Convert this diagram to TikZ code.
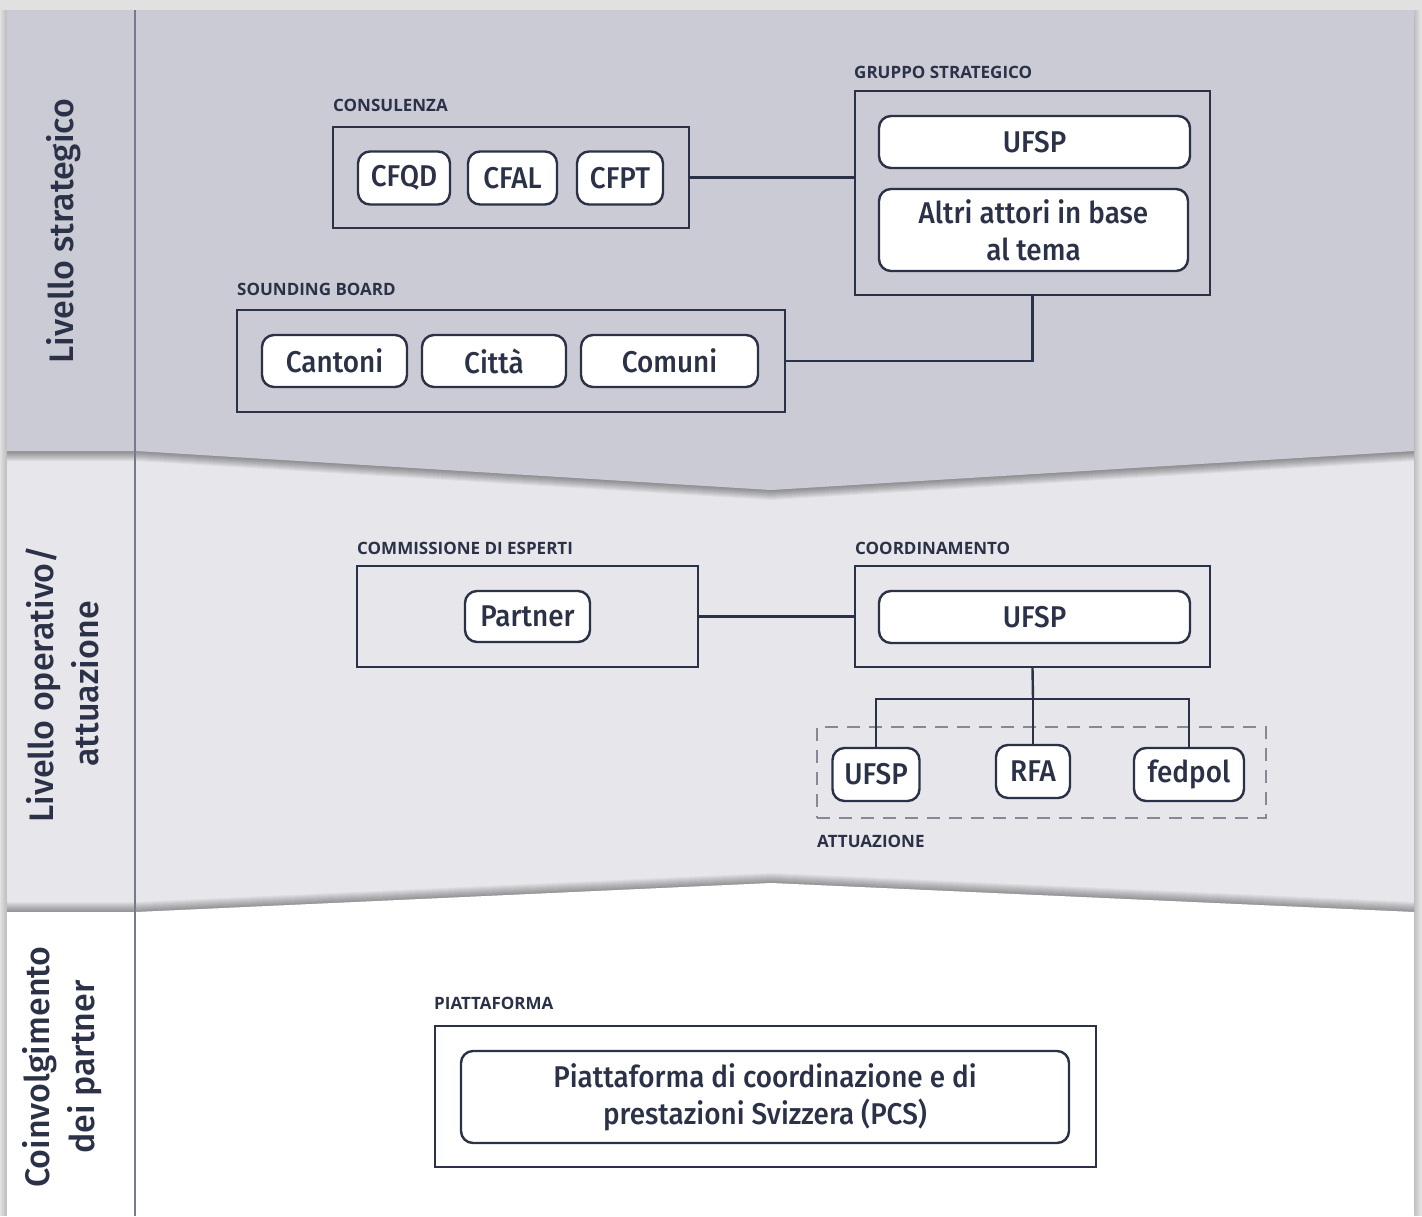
\documentclass[tikz,border=0pt]{standalone}
\usepackage{fontspec}
\setmainfont{Fira Sans}
\newfontfamily\boxfont[FakeStretch=0.93]{Fira Sans Medium}
\newfontfamily\levelfont{Fira Sans Medium}
\newfontfamily\headfont[BoldFont={Open Sans Bold}]{Open Sans}
\definecolor{navy}{HTML}{2B3247}
\definecolor{bandA}{HTML}{CBCBD5}
\definecolor{bandB}{HTML}{E6E6EB}
\definecolor{outer}{HTML}{E0E1E0}
\definecolor{dashgray}{HTML}{858896}
\definecolor{divider}{HTML}{767A8A}
\tikzset{
  frame/.style={draw=navy,line width=2.4pt,rectangle,inner sep=0pt},
  unit/.style={draw=navy,fill=white,line width=2.4pt,rounded corners=12pt,
    inner sep=0pt,text=navy,font=\boxfont\fontsize{30}{37}\selectfont,align=center},
  head/.style={anchor=base west,inner sep=0pt,text=navy,
    font=\headfont\bfseries\fontsize{17}{20}\selectfont},
  level/.style={rotate=90,inner sep=0pt,text=navy,align=center,
    font=\levelfont\fontsize{34}{45}\selectfont},
  link/.style={draw=navy,line width=2.4pt}
}
\newcommand\bandtop{(7,10) -- (1414,10) -- (1414,451) -- (771,490) -- (136,451) -- (7,451) -- cycle}
\newcommand\bandlow{(7,912) -- (136,912) -- (771,883) -- (1414,912) -- (1414,1216) -- (7,1216) -- cycle}
\begin{document}
\begin{tikzpicture}[x=1pt,y=-1pt]
\useasboundingbox (0,0) rectangle (1422,1216);
% background and bands
\fill[outer] (0,0) rectangle (1422,1216);
\foreach \k in {1,...,6}
  \fill[black,opacity=0.025] (7-\k,10) rectangle (1414+\k,1216);
\fill[bandB] (7,10) rectangle (1414,1216);
\foreach \k in {1,...,10}
  \fill[black,opacity=0.04,shift={(0,-\k)}] \bandlow;
\fill[white] \bandlow;
\foreach \k in {1,...,10}
  \fill[black,opacity=0.045,shift={(0,\k)}] \bandtop;
\fill[bandA] \bandtop;
\draw[divider,line width=1.4pt] (135,10) -- (135,1216);

% level labels
\node[level] (lvlStrat) at (64,231) {Livello strategico};
\node[level] (lvlOper) at (62,684) {Livello operativo/\\attuazione};
\node[level] (lvlPart) at (62,1067) {Coinvolgimento\\dei partner};

% strategic level
\node[head] (hCons) at (333,111) {CONSULENZA};
\node[frame,minimum width=356,minimum height=101] (cons) at (511,177.5) {};
\node[unit,minimum width=92,minimum height=53] (cfqd) at (404,178) {CFQD};
\node[unit,minimum width=89,minimum height=53] (cfal) at (512.5,178) {CFAL};
\node[unit,minimum width=86,minimum height=53] (cfpt) at (620,178) {CFPT};

\node[head] (hGrp) at (854,78) {GRUPPO STRATEGICO};
\node[frame,minimum width=355,minimum height=204] (grp) at (1032.5,193) {};
\node[unit,minimum width=311,minimum height=52] (ufspA) at (1034.5,142) {UFSP};
\node[unit,minimum width=309,minimum height=82] (altri) at (1033.5,230) {Altri attori in base\\al tema};

\node[head] (hSound) at (237,295) {SOUNDING BOARD};
\node[frame,minimum width=548,minimum height=102] (sound) at (511,361) {};
\node[unit,minimum width=145,minimum height=52] (cantoni) at (334.5,361) {Cantoni};
\node[unit,minimum width=144,minimum height=52] (citta) at (494,361) {Città};
\node[unit,minimum width=177,minimum height=52] (comuni) at (669.5,361) {Comuni};

\draw[link] (cons.east) -- (cons.east -| grp.west);
\draw[link] (grp.south) |- (sound.east);

% operative level
\node[head] (hComm) at (357,554) {COMMISSIONE DI ESPERTI};
\node[frame,minimum width=341,minimum height=101] (comm) at (527.5,616.5) {};
\node[unit,minimum width=125,minimum height=51] (partner) at (527.5,616.5) {Partner};

\node[head] (hCoord) at (855,554) {COORDINAMENTO};
\node[frame,minimum width=355,minimum height=101] (coord) at (1032.5,616.5) {};
\node[unit,minimum width=311,minimum height=52] (ufspC) at (1034.5,617) {UFSP};

\node[frame,draw=dashgray,line width=1.5pt,dash pattern=on 13pt off 9pt,
  minimum width=449,minimum height=91] (attuaz) at (1041.5,772.5) {};
\node[head] (hAtt) at (817,847) {ATTUAZIONE};
\node[unit,minimum width=87,minimum height=53] (ufspD) at (876,774.5) {UFSP};
\node[unit,minimum width=74,minimum height=53] (rfa) at (1033,771.5) {RFA};
\node[unit,minimum width=110,minimum height=53] (fedpol) at (1189,774.5) {fedpol};

\coordinate (split) at (1033,699);
\draw[link] (comm.east) -- (coord.west);
\draw[link] (coord.south) -- (split);
\draw[link] (ufspD.north) |- (split) -| (fedpol.north);
\draw[link] (split) -- (rfa.north);

% partner level
\node[head] (hPiat) at (434,1009) {PIATTAFORMA};
\node[frame,minimum width=661,minimum height=141] (piat) at (765.5,1096.5) {};
\node[unit,minimum width=608,minimum height=92] (pcs) at (765,1097) {Piattaforma di coordinazione e di\\prestazioni Svizzera (PCS)};
\end{tikzpicture}
\end{document}
